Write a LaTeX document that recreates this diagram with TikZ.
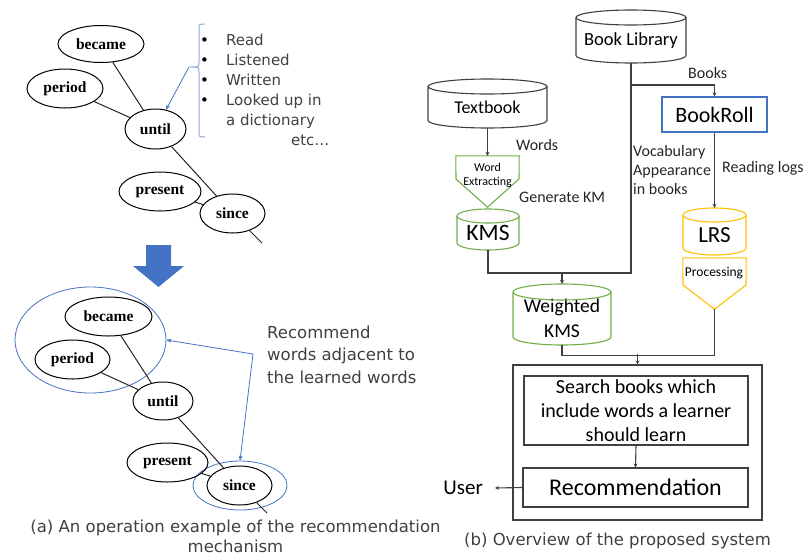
\documentclass[tikz,border=0pt]{standalone}
\usepackage{fontspec}
\setmainfont{DejaVu Sans}
\newfontfamily\calfont{Carlito}
\newfontfamily\wordfont{Liberation Serif}
\usetikzlibrary{arrows.meta,calc,shapes.geometric}
\definecolor{bluec}{HTML}{4472C4}
\definecolor{greenc}{HTML}{70AD47}
\definecolor{yellc}{HTML}{FFC000}
\definecolor{bracec}{HTML}{8FAADC}
\definecolor{graytxt}{HTML}{404040}
\definecolor{linec}{HTML}{404040}
\newcommand\fs[2]{\fontsize{#1}{#2}\selectfont}
% #1 name, #2 cx, #3 top, #4 bottom, #5 half width, #6 ry, #7 style, #8 font, #9 text
\newcommand\mycyl[9]{%
  \node[inner sep=0pt, minimum width={2*#5pt}, minimum height={(#4-#3-#6)*1pt}, font=#8, align=center]
     (#1) at ({#2},{(#3+#6+#4)/2}) {#9};
  \draw[#7] ({#2-#5},{#3+#6}) -- ({#2-#5},{#4-#6})
     arc[start angle=180,end angle=360,x radius=#5pt,y radius=#6pt] -- ({#2+#5},{#3+#6});
  \draw[#7] ({#2},{#3+#6}) ellipse [x radius=#5pt, y radius=#6pt];
}
\begin{document}
\begin{tikzpicture}[x=1pt,y=-1pt,
  word/.style={draw, ellipse, line width=1pt, inner sep=0pt, font=\wordfont\bfseries\fs{15.5}{18}},
  edge/.style={draw=black!85, line width=1pt},
  blueell/.style={draw=bluec, ellipse, line width=0.8pt, inner sep=0pt},
  bluearr/.style={draw=bluec, line width=0.8pt, -{Stealth[length=5pt,width=4pt]}},
  conn/.style={draw=linec, line width=1.1pt},
  arr/.style={conn, -{Stealth[length=4pt,width=4pt]}},
  rlabel/.style={font=\calfont\fs{16}{19}, text=black!85, inner sep=0pt, anchor=west},
  cylblack/.style={draw=linec, line width=1.1pt},
  cylgreen/.style={draw=greenc, line width=1.1pt},
  cylyell/.style={draw=yellc, line width=1.1pt},
  box/.style={draw=linec, line width=1.1pt, inner sep=0pt, font=\calfont, text=black}
]
\useasboundingbox (0,0) rectangle (808,557);

% ---------------- (a) top graph ----------------
\node[word, minimum width=86pt, minimum height=37pt] (became) at (101,44) {became};
\node[word, minimum width=76pt, minimum height=39pt] (period) at (65,88.5) {period};
\node[word, minimum width=61pt, minimum height=40pt] (until) at (155.5,129) {until};
\node[word, minimum width=82pt, minimum height=39pt] (present) at (160,191.5) {present};
\node[word, minimum width=65pt, minimum height=39pt] (since) at (232.5,213.5) {since};
\coordinate (tail) at (262,243);
\draw[edge] (became) -- (until);
\draw[edge] (period) -- (until);
\draw[edge] (until) -- (since);
\draw[edge] (present) -- (since);
\draw[edge] (since) -- (tail);

% brace and list
\draw[draw=bracec, line width=1pt] (205,24) .. controls (199,24) .. (199,29) -- (199,62)
   .. controls (199,67) .. (190,67) .. controls (199,67) .. (199,72) -- (199,132)
   .. controls (199,137) .. (205,137);
\coordinate (bt) at (189,67);
\draw[bluearr] (bt) -- (until);
\node[anchor=base west, inner sep=0pt, text=graytxt, font=\fs{15}{20}] (list) at (200,45)
  {\begin{tabular}[t]{@{}l@{\hspace{17pt}}l@{}}
   \textcolor{black}{•} & Read\\
   \textcolor{black}{•} & Listened\\
   \textcolor{black}{•} & Written\\
   \textcolor{black}{•} & Looked up in\\
    & a dictionary\\
    & \hspace*{65pt}etc…
   \end{tabular}};

% big down arrow
\fill[bluec] (146,245) -- (171,245) -- (171,266) -- (184,266) -- (158.5,287) -- (133,266) -- (146,266) -- cycle;

% ---------------- (a) bottom graph ----------------
\node[blueell, minimum width=151pt, minimum height=106pt] (bigell) at (90.5,340) {};
\node[blueell, minimum width=94pt, minimum height=49pt] (sinceouter) at (240,485.5) {};
\node[word, minimum width=87pt, minimum height=39pt] (became2) at (108.5,316.5) {became};
\node[word, minimum width=75pt, minimum height=39pt] (period2) at (72.5,359.5) {period};
\node[word, minimum width=60pt, minimum height=38pt] (until2) at (163,401) {until};
\node[word, minimum width=81pt, minimum height=39pt] (present2) at (167.5,462.5) {present};
\node[word, minimum width=65pt, minimum height=39pt] (since2) at (239.5,485.5) {since};
\coordinate (tail2) at (267,513);
\draw[edge] (became2) -- (until2);
\draw[edge] (period2) -- (until2);
\draw[edge] (until2) -- (since2);
\draw[edge] (present2) -- (since2);
\draw[edge] (since2) -- (tail2);
\coordinate (corner) at (253,354);
\draw[draw=bluec, line width=0.8pt, {Stealth[length=5pt,width=4pt]}-{Stealth[length=5pt,width=4pt]}]
   (bigell.east) -- (corner) -- (sinceouter.north);
\node[anchor=base west, inner sep=0pt, text=graytxt, font=\fs{16.5}{22.5}] (rectext) at (267,338)
  {\begin{tabular}[t]{@{}l@{}}Recommend\\ words adjacent to\\ the learned words\end{tabular}};

\node[anchor=base, inner sep=0pt, text=graytxt, font=\fs{16.5}{20}] (capa) at (235.5,532)
  {\begin{tabular}[t]{@{}c@{}}(a) An operation example of the recommendation\\ mechanism\end{tabular}};

% ---------------- (b) system ----------------
\mycyl{booklib}{631}{10}{63}{55}{7.5}{cylblack}{\calfont\fs{18.5}{22}}{\raisebox{-2pt}{Book Library}}
\mycyl{textbook}{487.5}{79}{128}{59.5}{7.5}{cylblack}{\calfont\fs{18}{22}}{Textbook}
\mycyl{kms}{488}{209}{250}{31}{7}{cylgreen}{\calfont\fs{23.5}{26}}{KMS}
\mycyl{lrs}{714.5}{208}{255}{31.5}{7}{cylyell}{\calfont\fs{23}{26}}{LRS}
\mycyl{wkms}{562}{284}{345}{49}{8}{cylgreen}{\calfont\fs{19.5}{24.5}}{Weighted\\KMS}

% word extracting pentagon
\node[inner sep=0pt, minimum width=63pt, minimum height=51pt] (wordext) at (487.5,181.5) {};
\draw[draw=greenc, line width=1.1pt] (wordext.north west) -- (wordext.north east) -- (519,179)
   -- (wordext.south) -- (456,179) -- cycle;
\node[font=\calfont\fs{12}{14.5}, align=center, inner sep=0pt] (wetext) at (487.5,175.5) {Word\\Extracting};

% processing pentagon
\node[inner sep=0pt, minimum width=63pt, minimum height=51pt] (proc) at (714.5,283.5) {};
\draw[draw=yellc, line width=1.1pt] (proc.north west) -- (proc.north east) -- (746,285)
   -- (proc.south) -- (683,285) -- cycle;
\node[font=\calfont\fs{13.5}{16}, inner sep=0pt] (proctext) at (714,273) {Processing};

% BookRoll
\node[draw=bluec, line width=1.1pt, minimum width=105pt, minimum height=35pt, inner sep=0pt,
      font=\calfont\fs{22}{26}] (bookroll) at (714.5,114.5) {BookRoll};

% outer box and inner boxes
\node[draw=linec, line width=1.1pt, minimum width=249pt, minimum height=155pt, inner sep=0pt] (outer) at (637.5,442.5) {};
\node[box, minimum width=224pt, minimum height=69pt, align=center, font=\calfont\fs{20}{24}] (search) at (636,410.5)
   {Search books which\\include words a learner\\should learn};
\node[box, minimum width=225pt, minimum height=39pt, font=\calfont\fs{24}{28}] (rec) at (635.5,487.5) {Recommendation};
\node[anchor=east, inner xsep=12pt, inner ysep=0pt, font=\calfont\fs{21}{24}] (user) at (495,488) {User};

% connectors
\coordinate (j1) at (631,273);
\coordinate (j2) at (631,85);
\draw[arr] (textbook.south) -- (wordext.north);
\draw[conn] (kms.south) |- (j1) -- (booklib.south);
\draw[arr] (wkms.north |- j1) -- ([yshift=8pt]wkms.north);
\draw[arr] (j2) -| (bookroll.north);
\draw[arr] (bookroll.south) -- ([yshift=7pt]lrs.north);
\draw[conn] (wkms.south) -- ++(0,10) -| (proc.south);
\draw[arr] ([yshift=10pt]outer.north) -- (outer.north);
\draw[arr] (search.south) -- (rec.north);
\draw[arr] (rec.west) -- (user.east);

% labels
\node[rlabel] (lwords) at (516,145) {Words};
\node[rlabel] (lgen) at (519,197) {Generate KM};
\node[rlabel] (lbooks) at (688,73) {Books};
\node[rlabel] (lread) at (722,168) {Reading logs};
\node[rlabel, align=left] (lvocab) at (633,170) {Vocabulary\\Appearance\\in books};

\node[anchor=base, inner sep=0pt, text=graytxt, font=\fs{16.5}{22}] (capb) at (617.5,545)
  {(b) Overview of the proposed system};
\end{tikzpicture}
\end{document}
